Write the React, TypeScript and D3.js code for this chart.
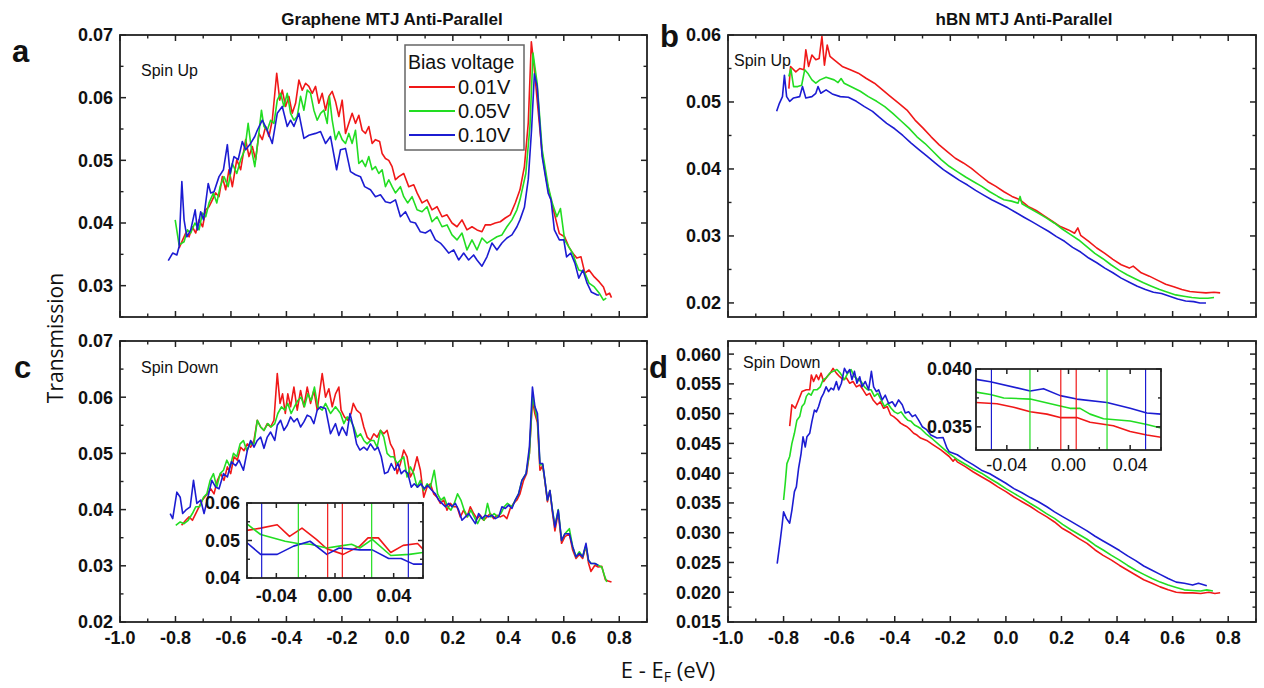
import React from "react";
import * as d3 from "d3";

type Pt = [number, number];

const FONT = "'Liberation Sans', Arial, Helvetica, sans-serif";
const RED = "#f01818";
const GREEN = "#22dd22";
const BLUE = "#1c1cd2";

// ---------- Panel a: Graphene MTJ, Spin Up ----------
const aRed: Pt[] = [[-0.787,0.036],[-0.774,0.0373],[-0.763,0.0384],[-0.751,0.0378],[-0.739,0.0394],[-0.727,0.0384],[-0.715,0.0405],[-0.702,0.0394],[-0.691,0.0421],[-0.679,0.0426],[-0.667,0.0437],[-0.655,0.0448],[-0.643,0.0442],[-0.631,0.0474],[-0.619,0.0453],[-0.607,0.0485],[-0.595,0.0458],[-0.579,0.0501],[-0.565,0.0485],[-0.547,0.0533],[-0.535,0.0506],[-0.523,0.0522],[-0.511,0.0501],[-0.499,0.0543],[-0.487,0.0533],[-0.475,0.0554],[-0.463,0.0538],[-0.451,0.0564],[-0.435,0.0639],[-0.424,0.0596],[-0.415,0.0612],[-0.403,0.0586],[-0.391,0.0602],[-0.379,0.0575],[-0.367,0.0591],[-0.355,0.0628],[-0.343,0.0612],[-0.331,0.0623],[-0.319,0.0618],[-0.307,0.0607],[-0.295,0.0618],[-0.283,0.0591],[-0.271,0.0607],[-0.259,0.058],[-0.247,0.0602],[-0.235,0.061],[-0.223,0.0594],[-0.211,0.057],[-0.199,0.0596],[-0.187,0.0543],[-0.175,0.0559],[-0.163,0.0575],[-0.151,0.0559],[-0.139,0.0572],[-0.127,0.0548],[-0.115,0.0543],[-0.103,0.0554],[-0.091,0.0527],[-0.079,0.0533],[-0.064,0.053],[-0.055,0.0511],[-0.043,0.0503],[-0.031,0.05],[-0.019,0.049],[-0.007,0.0469],[0.005,0.0474],[0.023,0.0479],[0.041,0.0458],[0.059,0.0461],[0.071,0.0448],[0.089,0.0432],[0.107,0.0437],[0.125,0.0421],[0.143,0.0426],[0.161,0.041],[0.179,0.0413],[0.197,0.04],[0.215,0.0394],[0.233,0.0405],[0.251,0.0389],[0.269,0.0394],[0.287,0.0389],[0.305,0.0386],[0.317,0.0397],[0.335,0.0397],[0.353,0.04],[0.371,0.0402],[0.389,0.0408],[0.407,0.0413],[0.425,0.0432],[0.442,0.0453],[0.458,0.049],[0.472,0.056],[0.483,0.0689],[0.493,0.065],[0.504,0.0596],[0.522,0.0511],[0.537,0.0469],[0.551,0.0442],[0.566,0.0415],[0.584,0.0383],[0.603,0.0378],[0.618,0.0362],[0.632,0.0352],[0.647,0.0344],[0.662,0.0346],[0.676,0.032],[0.691,0.0325],[0.71,0.0314],[0.728,0.0306],[0.743,0.0298],[0.753,0.0285],[0.765,0.0288],[0.772,0.0281]];
const aGreen: Pt[] = [[-0.801,0.0405],[-0.787,0.0365],[-0.769,0.037],[-0.757,0.0389],[-0.745,0.0384],[-0.73,0.04],[-0.715,0.0389],[-0.703,0.0416],[-0.691,0.041],[-0.679,0.0432],[-0.663,0.0448],[-0.651,0.0432],[-0.639,0.0458],[-0.625,0.0474],[-0.61,0.0458],[-0.595,0.0495],[-0.579,0.0479],[-0.565,0.0501],[-0.55,0.0517],[-0.538,0.0559],[-0.526,0.0517],[-0.514,0.049],[-0.502,0.0533],[-0.49,0.058],[-0.481,0.0554],[-0.469,0.0548],[-0.457,0.0564],[-0.445,0.0559],[-0.433,0.0596],[-0.421,0.0607],[-0.409,0.0586],[-0.397,0.0607],[-0.385,0.0575],[-0.373,0.0564],[-0.361,0.057],[-0.349,0.0602],[-0.337,0.058],[-0.325,0.0612],[-0.313,0.0607],[-0.301,0.058],[-0.289,0.0564],[-0.277,0.0575],[-0.265,0.058],[-0.253,0.0559],[-0.245,0.0602],[-0.235,0.0564],[-0.223,0.0533],[-0.211,0.0546],[-0.199,0.0533],[-0.187,0.0527],[-0.175,0.0543],[-0.163,0.0527],[-0.151,0.0548],[-0.139,0.0495],[-0.127,0.05],[-0.115,0.049],[-0.103,0.0506],[-0.091,0.0485],[-0.079,0.049],[-0.067,0.0479],[-0.055,0.0485],[-0.043,0.0458],[-0.031,0.0469],[-0.019,0.0458],[-0.007,0.0448],[0.011,0.0458],[0.023,0.0442],[0.037,0.0432],[0.053,0.0442],[0.071,0.0421],[0.089,0.0418],[0.107,0.0426],[0.125,0.0402],[0.143,0.041],[0.161,0.0394],[0.179,0.0397],[0.197,0.0381],[0.215,0.0373],[0.233,0.0384],[0.251,0.0357],[0.269,0.0373],[0.287,0.0357],[0.305,0.0376],[0.323,0.0368],[0.341,0.0373],[0.359,0.0378],[0.377,0.0381],[0.395,0.0394],[0.413,0.0405],[0.431,0.0421],[0.442,0.0437],[0.463,0.0479],[0.478,0.0554],[0.489,0.0671],[0.504,0.0623],[0.522,0.0517],[0.544,0.0458],[0.559,0.0431],[0.575,0.041],[0.588,0.0423],[0.603,0.0373],[0.618,0.0362],[0.632,0.0352],[0.644,0.0336],[0.654,0.0325],[0.674,0.0322],[0.691,0.0304],[0.71,0.0298],[0.728,0.0288],[0.743,0.0277],[0.753,0.028]];
const aBlue: Pt[] = [[-0.826,0.034],[-0.81,0.0352],[-0.795,0.0349],[-0.787,0.0362],[-0.777,0.0466],[-0.769,0.0405],[-0.759,0.0378],[-0.745,0.0389],[-0.729,0.0421],[-0.721,0.0389],[-0.709,0.0418],[-0.699,0.0405],[-0.682,0.0463],[-0.673,0.0448],[-0.661,0.045],[-0.643,0.0474],[-0.627,0.0485],[-0.613,0.0525],[-0.603,0.0479],[-0.589,0.0506],[-0.574,0.0501],[-0.559,0.053],[-0.547,0.0517],[-0.529,0.0527],[-0.514,0.0538],[-0.505,0.0548],[-0.487,0.0564],[-0.469,0.0548],[-0.451,0.0527],[-0.433,0.0575],[-0.415,0.0586],[-0.397,0.0554],[-0.385,0.0564],[-0.373,0.0554],[-0.355,0.0575],[-0.337,0.0535],[-0.319,0.054],[-0.295,0.0543],[-0.277,0.0546],[-0.259,0.0527],[-0.241,0.0538],[-0.219,0.0485],[-0.205,0.0517],[-0.187,0.0519],[-0.169,0.0482],[-0.151,0.0477],[-0.133,0.0474],[-0.118,0.0458],[-0.097,0.0453],[-0.079,0.0442],[-0.061,0.0445],[-0.043,0.0434],[-0.025,0.0432],[-0.007,0.0437],[0.011,0.041],[0.029,0.0418],[0.047,0.0402],[0.065,0.04],[0.083,0.0386],[0.101,0.0384],[0.119,0.0389],[0.137,0.0373],[0.155,0.0368],[0.167,0.0362],[0.185,0.0352],[0.203,0.0357],[0.221,0.0341],[0.239,0.0352],[0.257,0.0341],[0.275,0.0349],[0.287,0.0341],[0.305,0.0331],[0.323,0.0346],[0.341,0.0368],[0.359,0.0357],[0.377,0.0368],[0.395,0.0376],[0.413,0.0381],[0.431,0.0394],[0.442,0.0405],[0.458,0.0425],[0.472,0.047],[0.484,0.055],[0.494,0.0638],[0.504,0.0618],[0.522,0.0506],[0.544,0.0447],[0.554,0.0437],[0.566,0.0389],[0.584,0.0373],[0.6,0.0373],[0.61,0.0346],[0.625,0.0352],[0.64,0.0336],[0.654,0.0312],[0.669,0.0325],[0.684,0.0304],[0.699,0.029],[0.721,0.0285],[0.728,0.0285]];

// ---------- Panel b: hBN MTJ, Spin Up ----------
const bRed: Pt[] = [[-0.781,0.052],[-0.775,0.0553],[-0.756,0.0545],[-0.742,0.055],[-0.727,0.0548],[-0.72,0.0578],[-0.71,0.0553],[-0.698,0.057],[-0.684,0.0563],[-0.672,0.0565],[-0.662,0.0598],[-0.653,0.0555],[-0.643,0.0585],[-0.633,0.0568],[-0.618,0.0563],[-0.589,0.0553],[-0.56,0.0548],[-0.531,0.0543],[-0.502,0.0535],[-0.473,0.0528],[-0.444,0.0518],[-0.415,0.0508],[-0.385,0.0498],[-0.356,0.0488],[-0.327,0.0473],[-0.298,0.0461],[-0.269,0.0448],[-0.24,0.0436],[-0.211,0.0426],[-0.182,0.0416],[-0.153,0.0409],[-0.124,0.0401],[-0.095,0.0391],[-0.065,0.0381],[-0.036,0.0374],[-0.007,0.0366],[0.022,0.0359],[0.051,0.0354],[0.08,0.0344],[0.109,0.0338],[0.138,0.033],[0.167,0.0322],[0.196,0.0314],[0.225,0.0309],[0.247,0.0304],[0.259,0.0312],[0.269,0.0301],[0.298,0.0292],[0.327,0.0282],[0.356,0.0274],[0.385,0.0265],[0.415,0.0257],[0.444,0.0252],[0.458,0.0255],[0.487,0.0245],[0.516,0.024],[0.545,0.0234],[0.575,0.0228],[0.604,0.0224],[0.633,0.022],[0.662,0.0217],[0.691,0.0216],[0.72,0.0215],[0.749,0.0216],[0.771,0.0215]];
const bGreen: Pt[] = [[-0.781,0.0538],[-0.774,0.055],[-0.764,0.0523],[-0.749,0.0523],[-0.735,0.0525],[-0.724,0.0548],[-0.713,0.0543],[-0.698,0.0533],[-0.684,0.0528],[-0.669,0.0533],[-0.647,0.0537],[-0.618,0.0533],[-0.604,0.0529],[-0.593,0.0535],[-0.582,0.0528],[-0.553,0.0522],[-0.524,0.0516],[-0.495,0.0508],[-0.465,0.0501],[-0.436,0.0493],[-0.407,0.0483],[-0.378,0.0472],[-0.349,0.0461],[-0.32,0.0448],[-0.291,0.0438],[-0.262,0.0426],[-0.233,0.0414],[-0.204,0.0404],[-0.175,0.0396],[-0.145,0.0388],[-0.116,0.0381],[-0.087,0.0374],[-0.058,0.0366],[-0.029,0.0359],[-0.007,0.0354],[0.02,0.0352],[0.044,0.0349],[0.051,0.0359],[0.058,0.0348],[0.087,0.0341],[0.116,0.0334],[0.145,0.0327],[0.175,0.0319],[0.204,0.031],[0.233,0.0302],[0.262,0.0294],[0.291,0.0284],[0.32,0.0274],[0.349,0.0266],[0.378,0.0257],[0.407,0.0249],[0.436,0.0242],[0.465,0.0236],[0.495,0.023],[0.524,0.0225],[0.553,0.022],[0.582,0.0216],[0.611,0.0212],[0.64,0.021],[0.669,0.0208],[0.698,0.0207],[0.727,0.0207],[0.749,0.0208]];
const bBlue: Pt[] = [[-0.825,0.0486],[-0.815,0.0498],[-0.804,0.0508],[-0.797,0.054],[-0.789,0.0508],[-0.778,0.0501],[-0.764,0.0506],[-0.742,0.0508],[-0.732,0.0523],[-0.72,0.0506],[-0.698,0.0508],[-0.684,0.0513],[-0.676,0.0523],[-0.666,0.0513],[-0.647,0.0518],[-0.625,0.0512],[-0.596,0.0508],[-0.567,0.0507],[-0.538,0.0501],[-0.509,0.0493],[-0.48,0.0486],[-0.458,0.0478],[-0.429,0.0468],[-0.4,0.046],[-0.371,0.045],[-0.342,0.0439],[-0.313,0.0429],[-0.284,0.0419],[-0.255,0.0409],[-0.225,0.0399],[-0.196,0.0391],[-0.167,0.0383],[-0.138,0.0376],[-0.109,0.0368],[-0.08,0.0361],[-0.051,0.0354],[-0.022,0.0348],[0.007,0.0342],[0.036,0.0335],[0.065,0.0328],[0.095,0.0321],[0.124,0.0314],[0.153,0.0307],[0.182,0.0299],[0.211,0.0292],[0.24,0.0283],[0.269,0.0276],[0.298,0.0267],[0.327,0.026],[0.356,0.0252],[0.385,0.0245],[0.415,0.0237],[0.444,0.0231],[0.473,0.0225],[0.502,0.022],[0.531,0.0216],[0.56,0.0214],[0.589,0.021],[0.618,0.0206],[0.647,0.0203],[0.676,0.0202],[0.698,0.02],[0.72,0.02]];

// ---------- Panel c: Graphene MTJ, Spin Down ----------
const cRed: Pt[] = [[-0.778,0.0372],[-0.763,0.0381],[-0.751,0.0387],[-0.739,0.0381],[-0.727,0.0393],[-0.715,0.0405],[-0.703,0.0417],[-0.685,0.0428],[-0.673,0.0437],[-0.661,0.0428],[-0.649,0.0452],[-0.637,0.0464],[-0.625,0.0452],[-0.613,0.0476],[-0.601,0.0464],[-0.589,0.0494],[-0.577,0.0488],[-0.565,0.0511],[-0.553,0.0505],[-0.541,0.0517],[-0.529,0.0511],[-0.517,0.0523],[-0.505,0.0559],[-0.493,0.0547],[-0.481,0.0541],[-0.469,0.0553],[-0.457,0.0547],[-0.445,0.0559],[-0.433,0.0642],[-0.423,0.0589],[-0.414,0.0606],[-0.404,0.0571],[-0.395,0.0606],[-0.385,0.0583],[-0.373,0.0618],[-0.361,0.0577],[-0.349,0.0612],[-0.337,0.0583],[-0.325,0.0618],[-0.313,0.0589],[-0.301,0.0612],[-0.289,0.0577],[-0.271,0.0642],[-0.259,0.06],[-0.247,0.0615],[-0.235,0.0583],[-0.223,0.0606],[-0.211,0.0618],[-0.203,0.0577],[-0.191,0.0565],[-0.179,0.0559],[-0.167,0.0571],[-0.159,0.0589],[-0.147,0.0577],[-0.133,0.0571],[-0.121,0.0547],[-0.109,0.0529],[-0.097,0.0523],[-0.085,0.0535],[-0.073,0.0529],[-0.061,0.0541],[-0.049,0.0535],[-0.037,0.0541],[-0.025,0.0517],[-0.013,0.0506],[-0.001,0.0464],[0.011,0.0482],[0.023,0.0506],[0.035,0.0494],[0.047,0.0458],[0.059,0.047],[0.071,0.0494],[0.083,0.047],[0.095,0.0422],[0.107,0.044],[0.119,0.0446],[0.131,0.0428],[0.143,0.0422],[0.155,0.0411],[0.167,0.0417],[0.179,0.0399],[0.191,0.0411],[0.203,0.0405],[0.215,0.0405],[0.227,0.0387],[0.239,0.0399],[0.251,0.0387],[0.263,0.0405],[0.275,0.0393],[0.287,0.0384],[0.299,0.039],[0.311,0.0381],[0.323,0.0387],[0.335,0.0393],[0.347,0.0384],[0.359,0.039],[0.371,0.0387],[0.383,0.039],[0.395,0.0384],[0.407,0.0402],[0.419,0.0411],[0.431,0.0417],[0.442,0.0428],[0.455,0.0452],[0.466,0.0464],[0.476,0.05],[0.487,0.0595],[0.496,0.057],[0.505,0.0555],[0.514,0.047],[0.524,0.0478],[0.532,0.045],[0.541,0.0414],[0.55,0.0434],[0.559,0.0395],[0.568,0.0362],[0.58,0.0395],[0.592,0.034],[0.604,0.0352],[0.62,0.0357],[0.632,0.0328],[0.644,0.0313],[0.656,0.032],[0.668,0.0313],[0.68,0.0335],[0.689,0.0305],[0.698,0.029],[0.712,0.0301],[0.724,0.0298],[0.737,0.0299],[0.75,0.0275],[0.76,0.0273],[0.772,0.0271]];
const cGreen: Pt[] = [[-0.799,0.0372],[-0.783,0.0378],[-0.769,0.0375],[-0.754,0.0381],[-0.739,0.0393],[-0.727,0.0405],[-0.713,0.0405],[-0.699,0.0422],[-0.687,0.0428],[-0.675,0.0452],[-0.663,0.0464],[-0.651,0.044],[-0.639,0.0464],[-0.627,0.047],[-0.615,0.0488],[-0.603,0.0476],[-0.591,0.05],[-0.579,0.0494],[-0.567,0.0517],[-0.555,0.0523],[-0.543,0.0505],[-0.531,0.0517],[-0.517,0.0517],[-0.505,0.0559],[-0.493,0.0547],[-0.481,0.0541],[-0.467,0.0553],[-0.455,0.0547],[-0.442,0.0553],[-0.431,0.0571],[-0.418,0.0583],[-0.406,0.0577],[-0.395,0.0589],[-0.383,0.0571],[-0.371,0.0583],[-0.359,0.0594],[-0.347,0.06],[-0.335,0.0583],[-0.323,0.0606],[-0.311,0.0594],[-0.299,0.0618],[-0.287,0.0583],[-0.271,0.0577],[-0.259,0.0589],[-0.247,0.0577],[-0.241,0.0571],[-0.223,0.0583],[-0.205,0.0571],[-0.193,0.0553],[-0.181,0.0565],[-0.169,0.0559],[-0.157,0.0547],[-0.145,0.0529],[-0.133,0.0535],[-0.121,0.0523],[-0.109,0.0517],[-0.097,0.0523],[-0.085,0.0523],[-0.073,0.0511],[-0.061,0.0541],[-0.049,0.0529],[-0.037,0.05],[-0.025,0.0494],[-0.013,0.0494],[-0.001,0.0482],[0.011,0.0488],[0.023,0.0494],[0.035,0.0458],[0.047,0.0476],[0.059,0.0464],[0.071,0.044],[0.083,0.0452],[0.095,0.0434],[0.107,0.0446],[0.119,0.044],[0.133,0.047],[0.145,0.0428],[0.157,0.0417],[0.169,0.0422],[0.181,0.0405],[0.193,0.0399],[0.205,0.0411],[0.217,0.0428],[0.229,0.0417],[0.241,0.0399],[0.253,0.0387],[0.265,0.0399],[0.277,0.0387],[0.289,0.0375],[0.301,0.0387],[0.313,0.0381],[0.325,0.0411],[0.337,0.0387],[0.349,0.0393],[0.361,0.0387],[0.373,0.0393],[0.385,0.0405],[0.397,0.0411],[0.413,0.0405],[0.425,0.0417],[0.437,0.0428],[0.449,0.0452],[0.464,0.0464],[0.476,0.05],[0.487,0.06],[0.496,0.058],[0.505,0.056],[0.514,0.048],[0.524,0.048],[0.532,0.0452],[0.541,0.0417],[0.55,0.0434],[0.559,0.04],[0.568,0.037],[0.58,0.04],[0.592,0.0345],[0.604,0.0357],[0.62,0.0366],[0.632,0.0334],[0.644,0.0316],[0.656,0.0325],[0.668,0.0316],[0.68,0.0336],[0.689,0.031],[0.698,0.0304],[0.712,0.0304],[0.724,0.0301],[0.737,0.0298],[0.745,0.0285],[0.755,0.0271]];
const cBlue: Pt[] = [[-0.819,0.0393],[-0.81,0.0384],[-0.795,0.0431],[-0.783,0.0422],[-0.774,0.0393],[-0.763,0.0399],[-0.747,0.0405],[-0.735,0.0452],[-0.723,0.0411],[-0.709,0.0417],[-0.697,0.0393],[-0.683,0.0422],[-0.669,0.0452],[-0.655,0.044],[-0.643,0.0437],[-0.627,0.0464],[-0.613,0.0458],[-0.598,0.0485],[-0.583,0.0478],[-0.571,0.0488],[-0.555,0.047],[-0.541,0.0505],[-0.529,0.0523],[-0.517,0.0511],[-0.505,0.0523],[-0.493,0.0529],[-0.481,0.0509],[-0.469,0.0529],[-0.457,0.0538],[-0.442,0.0523],[-0.433,0.055],[-0.421,0.0559],[-0.409,0.0541],[-0.397,0.055],[-0.385,0.0565],[-0.373,0.0556],[-0.361,0.0562],[-0.349,0.0547],[-0.337,0.0556],[-0.325,0.0568],[-0.313,0.0565],[-0.301,0.0553],[-0.289,0.0577],[-0.277,0.0583],[-0.259,0.058],[-0.241,0.0535],[-0.223,0.0553],[-0.211,0.0532],[-0.199,0.0547],[-0.183,0.0532],[-0.171,0.0571],[-0.159,0.0547],[-0.147,0.0517],[-0.135,0.0506],[-0.121,0.0511],[-0.109,0.0506],[-0.097,0.0517],[-0.082,0.0506],[-0.07,0.0511],[-0.058,0.0494],[-0.046,0.0464],[-0.034,0.0467],[-0.022,0.0482],[-0.01,0.047],[0.002,0.0482],[0.014,0.0464],[0.026,0.047],[0.038,0.0464],[0.05,0.044],[0.061,0.0446],[0.073,0.044],[0.085,0.0446],[0.097,0.0437],[0.109,0.0443],[0.125,0.0434],[0.137,0.0428],[0.149,0.0417],[0.161,0.0411],[0.173,0.0405],[0.185,0.0411],[0.197,0.0405],[0.209,0.0411],[0.221,0.0399],[0.233,0.0381],[0.245,0.0387],[0.257,0.0393],[0.269,0.0384],[0.281,0.0375],[0.293,0.0393],[0.305,0.0384],[0.317,0.039],[0.329,0.0387],[0.341,0.039],[0.353,0.0384],[0.365,0.0387],[0.377,0.0405],[0.389,0.0402],[0.401,0.0408],[0.413,0.0402],[0.425,0.0417],[0.437,0.0428],[0.449,0.0452],[0.464,0.0464],[0.476,0.0511],[0.487,0.0618],[0.496,0.0583],[0.505,0.0571],[0.514,0.0482],[0.524,0.0482],[0.532,0.0452],[0.541,0.0417],[0.55,0.0434],[0.559,0.0399],[0.568,0.0369],[0.58,0.0399],[0.592,0.0345],[0.604,0.0357],[0.62,0.0357],[0.632,0.0334],[0.644,0.0316],[0.656,0.0322],[0.668,0.0316],[0.68,0.034],[0.689,0.031],[0.698,0.0304],[0.712,0.0304],[0.724,0.0301]];

// ---------- Panel d: hBN MTJ, Spin Down ----------
const dRed: Pt[] = [[-0.778,0.0479],[-0.77,0.0515],[-0.758,0.0509],[-0.746,0.0523],[-0.734,0.0537],[-0.718,0.054],[-0.706,0.054],[-0.7,0.0565],[-0.692,0.0554],[-0.682,0.0565],[-0.674,0.0557],[-0.665,0.0568],[-0.656,0.0554],[-0.644,0.0562],[-0.632,0.0568],[-0.622,0.0576],[-0.61,0.0568],[-0.598,0.0562],[-0.586,0.0557],[-0.574,0.056],[-0.562,0.0551],[-0.55,0.0554],[-0.538,0.0545],[-0.526,0.0548],[-0.514,0.054],[-0.502,0.0531],[-0.49,0.0534],[-0.478,0.0523],[-0.463,0.0515],[-0.452,0.052],[-0.44,0.0509],[-0.427,0.0512],[-0.415,0.0498],[-0.404,0.0495],[-0.391,0.049],[-0.379,0.0484],[-0.368,0.0481],[-0.356,0.0478],[-0.344,0.0473],[-0.332,0.0467],[-0.32,0.0464],[-0.307,0.0459],[-0.285,0.0455],[-0.263,0.0448],[-0.234,0.0439],[-0.204,0.0428],[-0.19,0.042],[-0.183,0.0424],[-0.175,0.0419],[-0.146,0.0411],[-0.117,0.0402],[-0.088,0.0394],[-0.058,0.0386],[-0.029,0.0377],[0,0.0369],[0.029,0.036],[0.058,0.0352],[0.088,0.0344],[0.117,0.0335],[0.146,0.0327],[0.175,0.0318],[0.204,0.0307],[0.234,0.0299],[0.263,0.029],[0.292,0.0282],[0.321,0.0271],[0.35,0.0262],[0.38,0.0254],[0.409,0.0245],[0.438,0.0237],[0.467,0.0229],[0.496,0.0221],[0.526,0.0215],[0.555,0.0209],[0.584,0.0204],[0.613,0.02],[0.642,0.0199],[0.672,0.0199],[0.701,0.0198],[0.73,0.02],[0.752,0.0198],[0.771,0.0199]];
const dGreen: Pt[] = [[-0.8,0.0355],[-0.794,0.0383],[-0.788,0.0416],[-0.778,0.0428],[-0.77,0.045],[-0.761,0.0467],[-0.752,0.0489],[-0.742,0.0495],[-0.734,0.0512],[-0.725,0.0517],[-0.718,0.0529],[-0.71,0.0534],[-0.701,0.0531],[-0.692,0.054],[-0.68,0.054],[-0.668,0.0545],[-0.658,0.0557],[-0.646,0.056],[-0.634,0.0568],[-0.622,0.0571],[-0.608,0.0574],[-0.596,0.0568],[-0.581,0.0557],[-0.569,0.0568],[-0.557,0.0574],[-0.545,0.0562],[-0.533,0.0557],[-0.521,0.0554],[-0.509,0.0545],[-0.497,0.054],[-0.485,0.054],[-0.473,0.0529],[-0.461,0.0534],[-0.449,0.0523],[-0.437,0.0512],[-0.425,0.0517],[-0.413,0.0509],[-0.401,0.0503],[-0.389,0.05],[-0.377,0.0503],[-0.365,0.0495],[-0.353,0.0489],[-0.341,0.0487],[-0.329,0.0481],[-0.317,0.0478],[-0.307,0.0475],[-0.285,0.0465],[-0.263,0.0457],[-0.234,0.0445],[-0.204,0.0433],[-0.175,0.0423],[-0.146,0.0415],[-0.117,0.0407],[-0.088,0.04],[-0.058,0.0391],[-0.029,0.0383],[0,0.0374],[0.029,0.0366],[0.058,0.0358],[0.088,0.0349],[0.117,0.0341],[0.146,0.0332],[0.175,0.0324],[0.204,0.0314],[0.234,0.0305],[0.263,0.0297],[0.292,0.0289],[0.321,0.0279],[0.35,0.0271],[0.38,0.0262],[0.409,0.0254],[0.438,0.0245],[0.467,0.0237],[0.496,0.023],[0.526,0.0223],[0.555,0.0217],[0.584,0.0212],[0.613,0.0208],[0.642,0.0204],[0.672,0.0203],[0.701,0.0202],[0.723,0.0204],[0.745,0.0202]];
const dBlue: Pt[] = [[-0.823,0.0248],[-0.812,0.0287],[-0.806,0.031],[-0.8,0.0335],[-0.79,0.0324],[-0.778,0.0316],[-0.77,0.0338],[-0.761,0.0369],[-0.754,0.0377],[-0.746,0.0408],[-0.737,0.0433],[-0.73,0.0461],[-0.722,0.0444],[-0.716,0.0461],[-0.706,0.0467],[-0.698,0.0487],[-0.689,0.0506],[-0.682,0.0503],[-0.674,0.0512],[-0.665,0.0526],[-0.656,0.0534],[-0.647,0.0545],[-0.638,0.0537],[-0.629,0.0543],[-0.62,0.054],[-0.61,0.0554],[-0.602,0.054],[-0.592,0.0551],[-0.581,0.0576],[-0.572,0.0568],[-0.562,0.0574],[-0.554,0.0557],[-0.545,0.0571],[-0.536,0.0551],[-0.526,0.0562],[-0.518,0.0545],[-0.506,0.0554],[-0.494,0.054],[-0.484,0.0571],[-0.476,0.0545],[-0.466,0.0537],[-0.458,0.054],[-0.445,0.0523],[-0.434,0.0531],[-0.422,0.0517],[-0.409,0.052],[-0.398,0.0512],[-0.386,0.0523],[-0.373,0.0515],[-0.362,0.0501],[-0.35,0.0503],[-0.337,0.0495],[-0.326,0.0498],[-0.314,0.0489],[-0.301,0.0478],[-0.285,0.0473],[-0.27,0.0464],[-0.248,0.0459],[-0.226,0.046],[-0.212,0.0442],[-0.204,0.0436],[-0.175,0.0431],[-0.146,0.0422],[-0.117,0.0414],[-0.088,0.0405],[-0.058,0.0399],[-0.029,0.0391],[0,0.0383],[0.029,0.0374],[0.058,0.0367],[0.088,0.0359],[0.117,0.0352],[0.146,0.0344],[0.175,0.0335],[0.204,0.0327],[0.234,0.0319],[0.263,0.0311],[0.292,0.0303],[0.321,0.0294],[0.35,0.0286],[0.38,0.0278],[0.409,0.027],[0.438,0.0261],[0.467,0.0253],[0.496,0.0244],[0.526,0.0237],[0.555,0.023],[0.584,0.0223],[0.613,0.0217],[0.642,0.0215],[0.672,0.0212],[0.693,0.0215],[0.723,0.0211]];

// ---------- Insets (zoom around E_F) ----------
const cInsetRed: Pt[] = [[-0.06,0.0527],[-0.0507,0.0533],[-0.0394,0.0542],[-0.031,0.0511],[-0.0225,0.0533],[-0.0127,0.0503],[-0.0056,0.0478],[0.0056,0.0463],[0.0169,0.0485],[0.0225,0.0507],[0.0296,0.0507],[0.038,0.0468],[0.0465,0.0487],[0.0563,0.0492],[0.06,0.0477]];
const cInsetGreen: Pt[] = [[-0.06,0.0544],[-0.0507,0.0516],[-0.034,0.0498],[-0.0254,0.0492],[-0.017,0.049],[-0.0056,0.048],[0.0028,0.0485],[0.0113,0.049],[0.0169,0.048],[0.0254,0.0503],[0.038,0.046],[0.0507,0.0463],[0.06,0.0468]];
const cInsetBlue: Pt[] = [[-0.06,0.0494],[-0.0507,0.0463],[-0.0394,0.0463],[-0.0282,0.0485],[-0.017,0.0498],[-0.0056,0.0463],[0.0028,0.048],[0.0169,0.0475],[0.0254,0.0475],[0.0366,0.0452],[0.0451,0.0452],[0.0535,0.0437],[0.06,0.0437]];
const dInsetRed: Pt[] = [[-0.06,0.0371],[-0.0464,0.037],[-0.0356,0.0367],[-0.0248,0.0363],[-0.014,0.0361],[-0.0054,0.0358],[0.0054,0.0358],[0.014,0.0354],[0.0291,0.0351],[0.04,0.0346],[0.0508,0.0343],[0.06,0.0341]];
const dInsetGreen: Pt[] = [[-0.06,0.038],[-0.0507,0.0378],[-0.042,0.0375],[-0.0248,0.0374],[-0.0054,0.0368],[0.001,0.0366],[0.0075,0.0366],[0.014,0.0361],[0.0227,0.0357],[0.04,0.0355],[0.0508,0.0352],[0.06,0.0349]];
const dInsetBlue: Pt[] = [[-0.06,0.0391],[-0.0507,0.0389],[-0.0248,0.0381],[-0.0162,0.0383],[-0.0054,0.0377],[0.0054,0.0374],[0.0249,0.0371],[0.04,0.0366],[0.0508,0.0362],[0.06,0.0361]];
const biasHalf = [0.005, 0.025, 0.05]; // ±V/2 markers
const biasColors = [RED, GREEN, BLUE];

// ---------- Axes ticks / labels ----------
const xMainTicks = [-1.0, -0.8, -0.6, -0.4, -0.2, 0.0, 0.2, 0.4, 0.6, 0.8];
const aYTicks = [0.03, 0.04, 0.05, 0.06, 0.07];
const bYTicks = [0.02, 0.03, 0.04, 0.05, 0.06];
const cYTicks = [0.02, 0.03, 0.04, 0.05, 0.06, 0.07];
const dYTicks = [0.015, 0.02, 0.025, 0.03, 0.035, 0.04, 0.045, 0.05, 0.055, 0.06];
const insetXTicks = [-0.04, 0.0, 0.04];
const cInsetYTicks = [0.04, 0.05, 0.06];
const dInsetYTicks = [0.035, 0.04];
const legendLabels = ["0.01V", "0.05V", "0.10V"];
const seriesColors = [RED, GREEN, BLUE];

const fmt = (v: number, d: number) => {
  const s = v.toFixed(d);
  return s === "-" + (0).toFixed(d) ? (0).toFixed(d) : s;
};

function minorsOf(ticks: number[], lo: number, hi: number): number[] {
  const step = ticks[1] - ticks[0];
  const out: number[] = [];
  const first = ticks[0] - step / 2;
  for (let v = first; v <= hi + 1e-9; v += step) {
    if (v >= lo - 1e-9) out.push(v);
  }
  return out;
}

type AxesProps = {
  left: number; right: number; top: number; bottom: number;
  xDomain: [number, number]; yDomain: [number, number];
  xTicks: number[]; yTicks: number[];
  xDec: number; yDec: number;
  showXLabels: boolean;
  xLabelBold?: boolean;
  series: { data: Pt[]; color: string }[];
  vlines?: boolean;
  fill?: boolean;
  major?: number; minor?: number;
  lw?: number;
  yLabelGap?: number;
  xLabelDy?: number;
  id: string;
};

function Axes(p: AxesProps) {
  const x = d3.scaleLinear().domain(p.xDomain).range([p.left, p.right]);
  const y = d3.scaleLinear().domain(p.yDomain).range([p.bottom, p.top]);
  const line = d3.line<Pt>().x((d) => x(d[0])).y((d) => y(d[1]));
  const maj = p.major ?? 6;
  const mnr = p.minor ?? 3.5;
  const xMin = minorsOf(p.xTicks, p.xDomain[0], p.xDomain[1]);
  const yMin = minorsOf(p.yTicks, p.yDomain[0], p.yDomain[1]);
  const tk = "#222";
  const els: React.ReactNode[] = [];
  p.xTicks.forEach((v, i) => {
    const X = x(v);
    els.push(<line key={"xb" + i} x1={X} x2={X} y1={p.bottom} y2={p.bottom - maj} stroke={tk} strokeWidth={1.5} />);
    els.push(<line key={"xt" + i} x1={X} x2={X} y1={p.top} y2={p.top + maj} stroke={tk} strokeWidth={1.5} />);
  });
  xMin.forEach((v, i) => {
    const X = x(v);
    els.push(<line key={"xbm" + i} x1={X} x2={X} y1={p.bottom} y2={p.bottom - mnr} stroke={tk} strokeWidth={1.4} />);
    els.push(<line key={"xtm" + i} x1={X} x2={X} y1={p.top} y2={p.top + mnr} stroke={tk} strokeWidth={1.4} />);
  });
  p.yTicks.forEach((v, i) => {
    const Y = y(v);
    els.push(<line key={"yl" + i} x1={p.left} x2={p.left + maj} y1={Y} y2={Y} stroke={tk} strokeWidth={1.5} />);
    els.push(<line key={"yr" + i} x1={p.right} x2={p.right - maj} y1={Y} y2={Y} stroke={tk} strokeWidth={1.5} />);
  });
  yMin.forEach((v, i) => {
    const Y = y(v);
    els.push(<line key={"ylm" + i} x1={p.left} x2={p.left + mnr} y1={Y} y2={Y} stroke={tk} strokeWidth={1.4} />);
    els.push(<line key={"yrm" + i} x1={p.right} x2={p.right - mnr} y1={Y} y2={Y} stroke={tk} strokeWidth={1.4} />);
  });
  return (
    <g>
      <defs>
        <clipPath id={p.id}>
          <rect x={p.left} y={p.top} width={p.right - p.left} height={p.bottom - p.top} />
        </clipPath>
      </defs>
      {p.fill && <rect x={p.left} y={p.top} width={p.right - p.left} height={p.bottom - p.top} fill="#fff" />}
      <g clipPath={`url(#${p.id})`}>
        {p.series.map((s, i) => (
          <path key={i} d={line(s.data) || ""} fill="none" stroke={s.color} strokeWidth={p.lw ?? 1.6} strokeLinejoin="round" />
        ))}
        {p.vlines &&
          biasHalf.map((b, i) => (
            <g key={"v" + i}>
              <line x1={x(-b)} x2={x(-b)} y1={p.top} y2={p.bottom} stroke={biasColors[i]} strokeWidth={1.2} />
              <line x1={x(b)} x2={x(b)} y1={p.top} y2={p.bottom} stroke={biasColors[i]} strokeWidth={1.2} />
            </g>
          ))}
      </g>
      {els}
      <rect x={p.left} y={p.top} width={p.right - p.left} height={p.bottom - p.top} fill="none" stroke={tk} strokeWidth={1.8} />
      {p.yTicks.map((v, i) => (
        <text key={"yt" + i} x={p.left - (p.yLabelGap ?? 7)} y={y(v)} dy="0.36em" textAnchor="end"
          fontFamily={FONT} fontWeight="bold" fontSize={18} fill="#111">{fmt(v, p.yDec)}</text>
      ))}
      {p.showXLabels && p.xTicks.map((v, i) => (
        <text key={"xl" + i} x={x(v)} y={p.bottom + (p.xLabelDy ?? 22)} textAnchor="middle"
          fontFamily={FONT} fontWeight={p.xLabelBold === false ? "normal" : "bold"} fontSize={18} fill="#111">{fmt(v, p.xDec)}</text>
      ))}
    </g>
  );
}

export default function App() {
  const W = 1264, H = 688;
  const A = { left: 120, right: 647, top: 35, bottom: 317 };
  const B = { left: 728, right: 1256, top: 35, bottom: 317 };
  const C = { left: 120, right: 647, top: 341, bottom: 622 };
  const D = { left: 728, right: 1256, top: 341, bottom: 622 };
  const xDom: [number, number] = [-1.0, 0.9];
  const mk = (r: Pt[], g: Pt[], b: Pt[]) => [
    { data: r, color: RED }, { data: g, color: GREEN }, { data: b, color: BLUE },
  ];
  const legendRowsY = [87, 111, 135];
  return (
    <svg width={W} height={H} viewBox={`0 0 ${W} ${H}`} style={{ position: "absolute", left: 0, top: 0, background: "#fff" }}>
      <rect x={0} y={0} width={W} height={H} fill="#fff" />
      {/* titles */}
      <text x={392} y={25} textAnchor="middle" fontFamily={FONT} fontWeight="bold" fontSize={17} fill="#111">Graphene MTJ Anti-Parallel</text>
      <text x={1024} y={25} textAnchor="middle" fontFamily={FONT} fontWeight="bold" fontSize={17} fill="#111">hBN MTJ Anti-Parallel</text>
      {/* panel letters */}
      <text x={12} y={62} fontFamily={FONT} fontWeight="bold" fontSize={31} fill="#111">a</text>
      <text x={660} y={47} fontFamily={FONT} fontWeight="bold" fontSize={31} fill="#111">b</text>
      <text x={14} y={378} fontFamily={FONT} fontWeight="bold" fontSize={31} fill="#111">c</text>
      <text x={649} y={378} fontFamily={FONT} fontWeight="bold" fontSize={31} fill="#111">d</text>

      <Axes id="ca" {...A} xDomain={xDom} yDomain={[0.025, 0.07]} xTicks={xMainTicks} yTicks={aYTicks}
        xDec={1} yDec={2} showXLabels={false} series={mk(aRed, aGreen, aBlue)} />
      <Axes id="cb" {...B} xDomain={xDom} yDomain={[0.0179, 0.06]} xTicks={xMainTicks} yTicks={bYTicks}
        xDec={1} yDec={2} showXLabels={false} series={mk(bRed, bGreen, bBlue)} />
      <Axes id="cc" {...C} xDomain={xDom} yDomain={[0.02, 0.07]} xTicks={xMainTicks} yTicks={cYTicks}
        xDec={1} yDec={2} showXLabels={true} series={mk(cRed, cGreen, cBlue)} />
      <Axes id="cd" {...D} xDomain={xDom} yDomain={[0.015, 0.0622]} xTicks={xMainTicks} yTicks={dYTicks}
        xDec={1} yDec={3} showXLabels={true} series={mk(dRed, dGreen, dBlue)} />

      {/* spin labels */}
      <text x={141} y={76} fontFamily={FONT} fontSize={16} fill="#111">Spin Up</text>
      <text x={734} y={66} fontFamily={FONT} fontSize={16} fill="#111">Spin Up</text>
      <text x={141} y={373} fontFamily={FONT} fontSize={16} fill="#111">Spin Down</text>
      <text x={743} y={368} fontFamily={FONT} fontSize={16} fill="#111">Spin Down</text>

      {/* legend */}
      <rect x={405} y={45} width={119} height={105} fill="#fff" stroke="#666" strokeWidth={1.5} />
      <text x={408} y={69} fontFamily={FONT} fontSize={19.5} fill="#111">Bias voltage</text>
      {legendLabels.map((l, i) => (
        <g key={l}>
          <line x1={409} x2={455} y1={legendRowsY[i]} y2={legendRowsY[i]} stroke={seriesColors[i]} strokeWidth={1.8} />
          <text x={458} y={legendRowsY[i]} dy="0.36em" fontFamily={FONT} fontSize={20} fill="#111">{l}</text>
        </g>
      ))}

      {/* insets */}
      <Axes id="ic" left={247} right={423} top={503} bottom={578} xDomain={[-0.06, 0.06]} yDomain={[0.04, 0.06]}
        xTicks={insetXTicks} yTicks={cInsetYTicks} xDec={2} yDec={2} showXLabels={true} xLabelDy={24}
        series={mk(cInsetRed, cInsetGreen, cInsetBlue)} vlines fill major={5} minor={3} />
      <Axes id="id" left={976} right={1161} top={369} bottom={450} xDomain={[-0.06, 0.06]} yDomain={[0.033, 0.04]}
        xTicks={insetXTicks} yTicks={dInsetYTicks} xDec={2} yDec={3} showXLabels={true} xLabelBold={false} xLabelDy={21}
        yLabelGap={4} series={mk(dInsetRed, dInsetGreen, dInsetBlue)} vlines fill major={5} minor={3} />

      {/* axis titles */}
      <text transform="translate(63,338) rotate(-90)" textAnchor="middle" fontFamily="'Open Sans', 'Noto Sans', sans-serif" fontSize={21} fill="#111">Transmission</text>
      <text x={668} y={678} textAnchor="middle" fontFamily="'Open Sans', 'Noto Sans', sans-serif" fontSize={22} fill="#111">
        E - E<tspan dy={4} fontSize={14}>F</tspan><tspan dy={-4}> (eV)</tspan>
      </text>
    </svg>
  );
}
